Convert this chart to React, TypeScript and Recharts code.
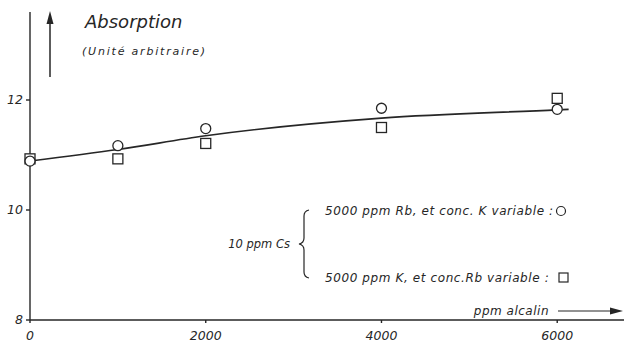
import React from 'react';
import { ComposedChart, Line, Scatter, XAxis, YAxis } from 'recharts';

// ppm alcalin values where the points were measured
const ppm = [0, 1000, 2000, 4000, 6000];
// 5000 ppm Rb, K variable (circles)
const rbSeries = [10.89, 11.17, 11.48, 11.85, 11.83];
// 5000 ppm K, Rb variable (squares)
const kSeries = [10.93, 10.93, 11.21, 11.5, 12.03];
// fitted curve
const curvePpm = [0, 1000, 2000, 4000, 6000, 6130];
const curveVals = [10.89, 11.1, 11.35, 11.67, 11.82, 11.83];

const xTicks = [0, 2000, 4000, 6000];
const yTicks = [8, 10, 12];

const ink = '#262626';
const font = '"DejaVu Sans", sans-serif';

const circles = ppm.map((x, i) => ({ x, y: rbSeries[i] }));
const squares = ppm.map((x, i) => ({ x, y: kSeries[i] }));
const curve = curvePpm.map((x, i) => ({ x, y: curveVals[i] }));

const CircleMark = (props: any) => (
  <circle cx={props.cx} cy={props.cy} r={5} fill="#fff" stroke={ink} strokeWidth={1.3} />
);
const SquareMark = (props: any) => (
  <rect x={props.cx - 5} y={props.cy - 5} width={10} height={10} fill="#fff" stroke={ink} strokeWidth={1.3} />
);

const tickStyle = { fontSize: 12.5, fontStyle: 'italic', fill: ink, fontFamily: font };

export default function App() {
  return (
    <div style={{ position: 'fixed', left: 0, top: 0, width: 624, height: 342, background: '#fff', overflow: 'hidden' }}>
      <ComposedChart width={624} height={342} margin={{ top: 12, right: 0, bottom: 0, left: 0 }}>
        <XAxis
          type="number"
          dataKey="x"
          domain={[0, 6760]}
          ticks={xTicks}
          height={22}
          tickSize={3}
          tickMargin={8}
          tick={tickStyle}
          stroke={ink}
          strokeWidth={1.4}
        />
        <YAxis
          type="number"
          dataKey="y"
          domain={[8, 13.6]}
          ticks={yTicks}
          width={30}
          tickSize={4}
          tickMargin={3}
          tick={tickStyle}
          stroke={ink}
          strokeWidth={1.4}
        />
        <Scatter data={squares} dataKey="y" shape={SquareMark} isAnimationActive={false} />
        <Scatter data={circles} dataKey="y" shape={CircleMark} isAnimationActive={false} />
        <Line
          data={curve}
          dataKey="y"
          type="monotone"
          dot={false}
          stroke={ink}
          strokeWidth={1.7}
          isAnimationActive={false}
        />
      </ComposedChart>
      <svg
        width={624}
        height={342}
        style={{ position: 'absolute', left: 0, top: 0, pointerEvents: 'none' }}
        fontFamily={font}
        fontStyle="italic"
        fill={ink}
      >
        {/* vertical arrow + title */}
        <line x1={50} y1={77} x2={50} y2={20} stroke={ink} strokeWidth={1.5} />
        <path d="M50 11 L46.5 24 L53.5 24 Z" fill={ink} />
        <text x={85} y={28} fontSize={18}>Absorption</text>
        <text x={82} y={55} fontSize={11} letterSpacing={1.8}>(Unité arbitraire)</text>

        {/* x axis label + arrow */}
        <text x={549} y={315} fontSize={12} letterSpacing={0.5} textAnchor="end">ppm alcalin</text>
        <line x1={558} y1={311} x2={612} y2={311} stroke={ink} strokeWidth={1.2} />
        <path d="M623 311 L610 307.5 L610 314.5 Z" fill={ink} />

        {/* legend */}
        <text x={325} y={215} fontSize={12} letterSpacing={0.6}>5000 ppm Rb, et conc. K variable :</text>
        <circle cx={561} cy={211} r={4.5} fill="none" stroke={ink} strokeWidth={1.2} />
        <text x={325} y={282} fontSize={12} letterSpacing={0.6}>5000 ppm K, et conc.Rb variable :</text>
        <rect x={559} y={273} width={9} height={9} fill="none" stroke={ink} strokeWidth={1.2} />
        <text x={290} y={248} fontSize={11.5} textAnchor="end">10 ppm Cs</text>
        <path
          d="M309 210 Q304 211 304 216 L304 238 Q304 243 299 244 Q304 245 304 250 L304 272 Q304 277 309 278"
          fill="none"
          stroke={ink}
          strokeWidth={1.2}
        />
      </svg>
    </div>
  );
}
